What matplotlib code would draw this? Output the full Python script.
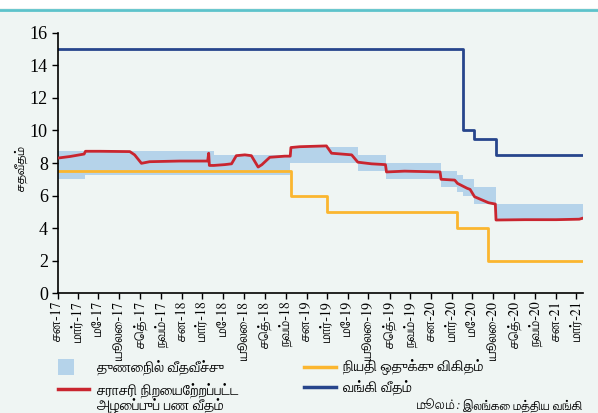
import numpy as np
import pandas as pd
import matplotlib
matplotlib.use("Agg")
import matplotlib.pyplot as plt
from matplotlib.patches import Rectangle
from matplotlib.lines import Line2D

fam = ['FreeSerif', 'Lohit Tamil', 'Liberation Serif', 'DejaVu Sans']

# corridor (standing facility rates)
corr_dates = ["2017-01-01", "2017-03-24", "2018-04-04", "2018-11-14", "2019-05-31",
              "2019-08-23", "2020-01-30", "2020-03-16", "2020-04-03", "2020-05-06",
              "2020-07-09", "2021-03-20"]
corr_low = [7.0, 7.25, 7.25, 8.0, 7.5, 7.0, 6.5, 6.25, 6.0, 5.5, 4.5, 4.5]
corr_high = [8.75, 8.75, 8.5, 9.0, 8.5, 8.0, 7.5, 7.25, 7.0, 6.5, 5.5, 5.5]

# average weighted call money rate
awcmr_dates = ["2017-01-01", "2017-02-07", "2017-03-20", "2017-03-24", "2017-05-05",
               "2017-08-01", "2017-08-15", "2017-09-04", "2017-09-28", "2017-12-25",
               "2018-03-17", "2018-03-20", "2018-03-22", "2018-04-04", "2018-05-06",
               "2018-05-26", "2018-06-09", "2018-07-04", "2018-07-23", "2018-08-12",
               "2018-08-23", "2018-09-15", "2018-10-29", "2018-11-14", "2018-11-16",
               "2018-12-12", "2019-02-28", "2019-03-15", "2019-05-13", "2019-05-31",
               "2019-07-10", "2019-08-20", "2019-08-23", "2019-10-15", "2020-01-27",
               "2020-01-30", "2020-03-10", "2020-03-18", "2020-04-15", "2020-04-24",
               "2020-05-07", "2020-05-29", "2020-06-17", "2020-07-07", "2020-07-09",
               "2020-10-01", "2021-01-01", "2021-03-10", "2021-03-18"]
awcmr = [8.3, 8.4, 8.55, 8.72, 8.72,
         8.7, 8.5, 7.98, 8.08, 8.12,
         8.12, 8.6, 7.85, 7.85, 7.9,
         7.95, 8.45, 8.5, 8.45, 7.75,
         7.9, 8.35, 8.42, 8.42, 8.95,
         9.0, 9.05, 8.6, 8.5, 8.05,
         7.95, 7.9, 7.45, 7.5, 7.45,
         7.0, 6.95, 6.75, 6.45, 6.38,
         5.93, 5.73, 5.56, 5.48, 4.5,
         4.52, 4.52, 4.55, 4.6]

# statutory reserve ratio
srr_dates = ["2017-01-01", "2018-11-16", "2019-03-01", "2020-03-16", "2020-06-16", "2021-03-20"]
srr = [7.5, 6.0, 5.0, 4.0, 2.0, 2.0]

# bank rate
bank_dates = ["2017-01-01", "2020-04-03", "2020-05-06", "2020-07-09", "2021-03-20"]
bank = [15.0, 10.0, 9.5, 8.5, 8.5]

tick_labels = ["சன", "மார்", "மே", "யூலை", "செத்", "நவம்"]

legend_labels = ["துணைநில் வீதவீச்சு", "சராசரி நிறையேற்றப்பட்ட\nஅழைப்புப் பண வீதம்",
                 "நியதி ஒதுக்கு விகிதம்", "வங்கி வீதம்"]
ylabel = "சதவீதம்"
source_label = "மூலம்:"
source_text = " இலங்கை மத்திய வங்கி"

bg = '#eff5f3'
c_band = '#b5d3ea'
c_red = '#c9252f'
c_orange = '#fbb62f'
c_navy = '#27458c'

W, H = 598, 413
fig = plt.figure(figsize=(W / 100, H / 100), dpi=100, facecolor=bg)
fig.patches.append(Rectangle((0, 1 - 8 / H), 1, 8 / H, transform=fig.transFigure,
                             facecolor='white', edgecolor='none', zorder=0))
fig.lines.append(Line2D([0, 1], [1 - 9.5 / H, 1 - 9.5 / H], transform=fig.transFigure,
                        color='#5dc3cb', lw=2))

ax = fig.add_axes([57.5 / W, 1 - 293.3 / H, 525.2 / W, 260.6 / H])
ax.set_facecolor(bg)

cd = pd.to_datetime(corr_dates)
ax.fill_between(cd, corr_low, corr_high, step='post', color=c_band, lw=0, zorder=1)
ax.plot(pd.to_datetime(srr_dates), srr, drawstyle='steps-post', color=c_orange, lw=2, zorder=2)
ax.plot(pd.to_datetime(bank_dates), bank, drawstyle='steps-post', color=c_navy, lw=2, zorder=2)
ax.plot(pd.to_datetime(awcmr_dates), awcmr, color=c_red, lw=2, zorder=3)

ax.set_xlim(pd.Timestamp("2017-01-01"), pd.Timestamp("2021-03-20"))
ax.set_ylim(0, 16)
ax.set_yticks(np.arange(0, 17, 2))
for lab in ax.get_yticklabels():
    lab.set_family(['Liberation Serif'])
    lab.set_fontsize(13)

ticks = pd.date_range("2017-01-01", "2021-03-01", freq="2MS")
ax.set_xticks(ticks)
ax.set_xticklabels([f"{tick_labels[(t.month - 1) // 2]}-{t.year % 100}" for t in ticks],
                   rotation=90, fontsize=10, family=fam)
ax.tick_params(axis='both', direction='out', length=4, width=1, colors='black', pad=2)
ax.tick_params(axis='y', pad=3)
for s in ['top', 'right']:
    ax.spines[s].set_visible(False)
for s in ['left', 'bottom']:
    ax.spines[s].set_linewidth(1.2)

fig.text(21.5 / W, 1 - 168 / H, ylabel, rotation=90, ha='center', va='center',
         fontsize=9.5, family=fam)

# legend
def fy(y):
    return 1 - y / H

fs = 10.5
fig.patches.append(Rectangle((58 / W, fy(375)), 16 / W, 16 / H, transform=fig.transFigure,
                             facecolor=c_band, edgecolor='none'))
fig.lines.append(Line2D([58 / W, 89 / W], [fy(389)] * 2, transform=fig.transFigure, color=c_red, lw=2.5))
fig.lines.append(Line2D([304 / W, 336 / W], [fy(366.7)] * 2, transform=fig.transFigure, color=c_orange, lw=2.5))
fig.lines.append(Line2D([304 / W, 336 / W], [fy(386.7)] * 2, transform=fig.transFigure, color=c_navy, lw=2.5))
fig.text(97 / W, fy(367), legend_labels[0], va='center', fontsize=fs, family=fam)
fig.text(97 / W, fy(390), legend_labels[1].split('\n')[0], va='center', fontsize=fs, family=fam)
fig.text(97 / W, fy(406), legend_labels[1].split('\n')[1], va='center', fontsize=fs, family=fam)
fig.text(343 / W, fy(367), legend_labels[2], va='center', fontsize=fs, family=fam)
fig.text(343 / W, fy(387), legend_labels[3], va='center', fontsize=fs, family=fam)
t = fig.text(583 / W, fy(406), source_text, va='center', ha='right', fontsize=9, family=fam)
fig.canvas.draw()
bb = t.get_window_extent()
fig.text(bb.x0 / W, fy(406), source_label, va='center', ha='right', fontsize=9,
         family=fam, style='italic')

fig.savefig("out.png", dpi=100, facecolor=bg)
